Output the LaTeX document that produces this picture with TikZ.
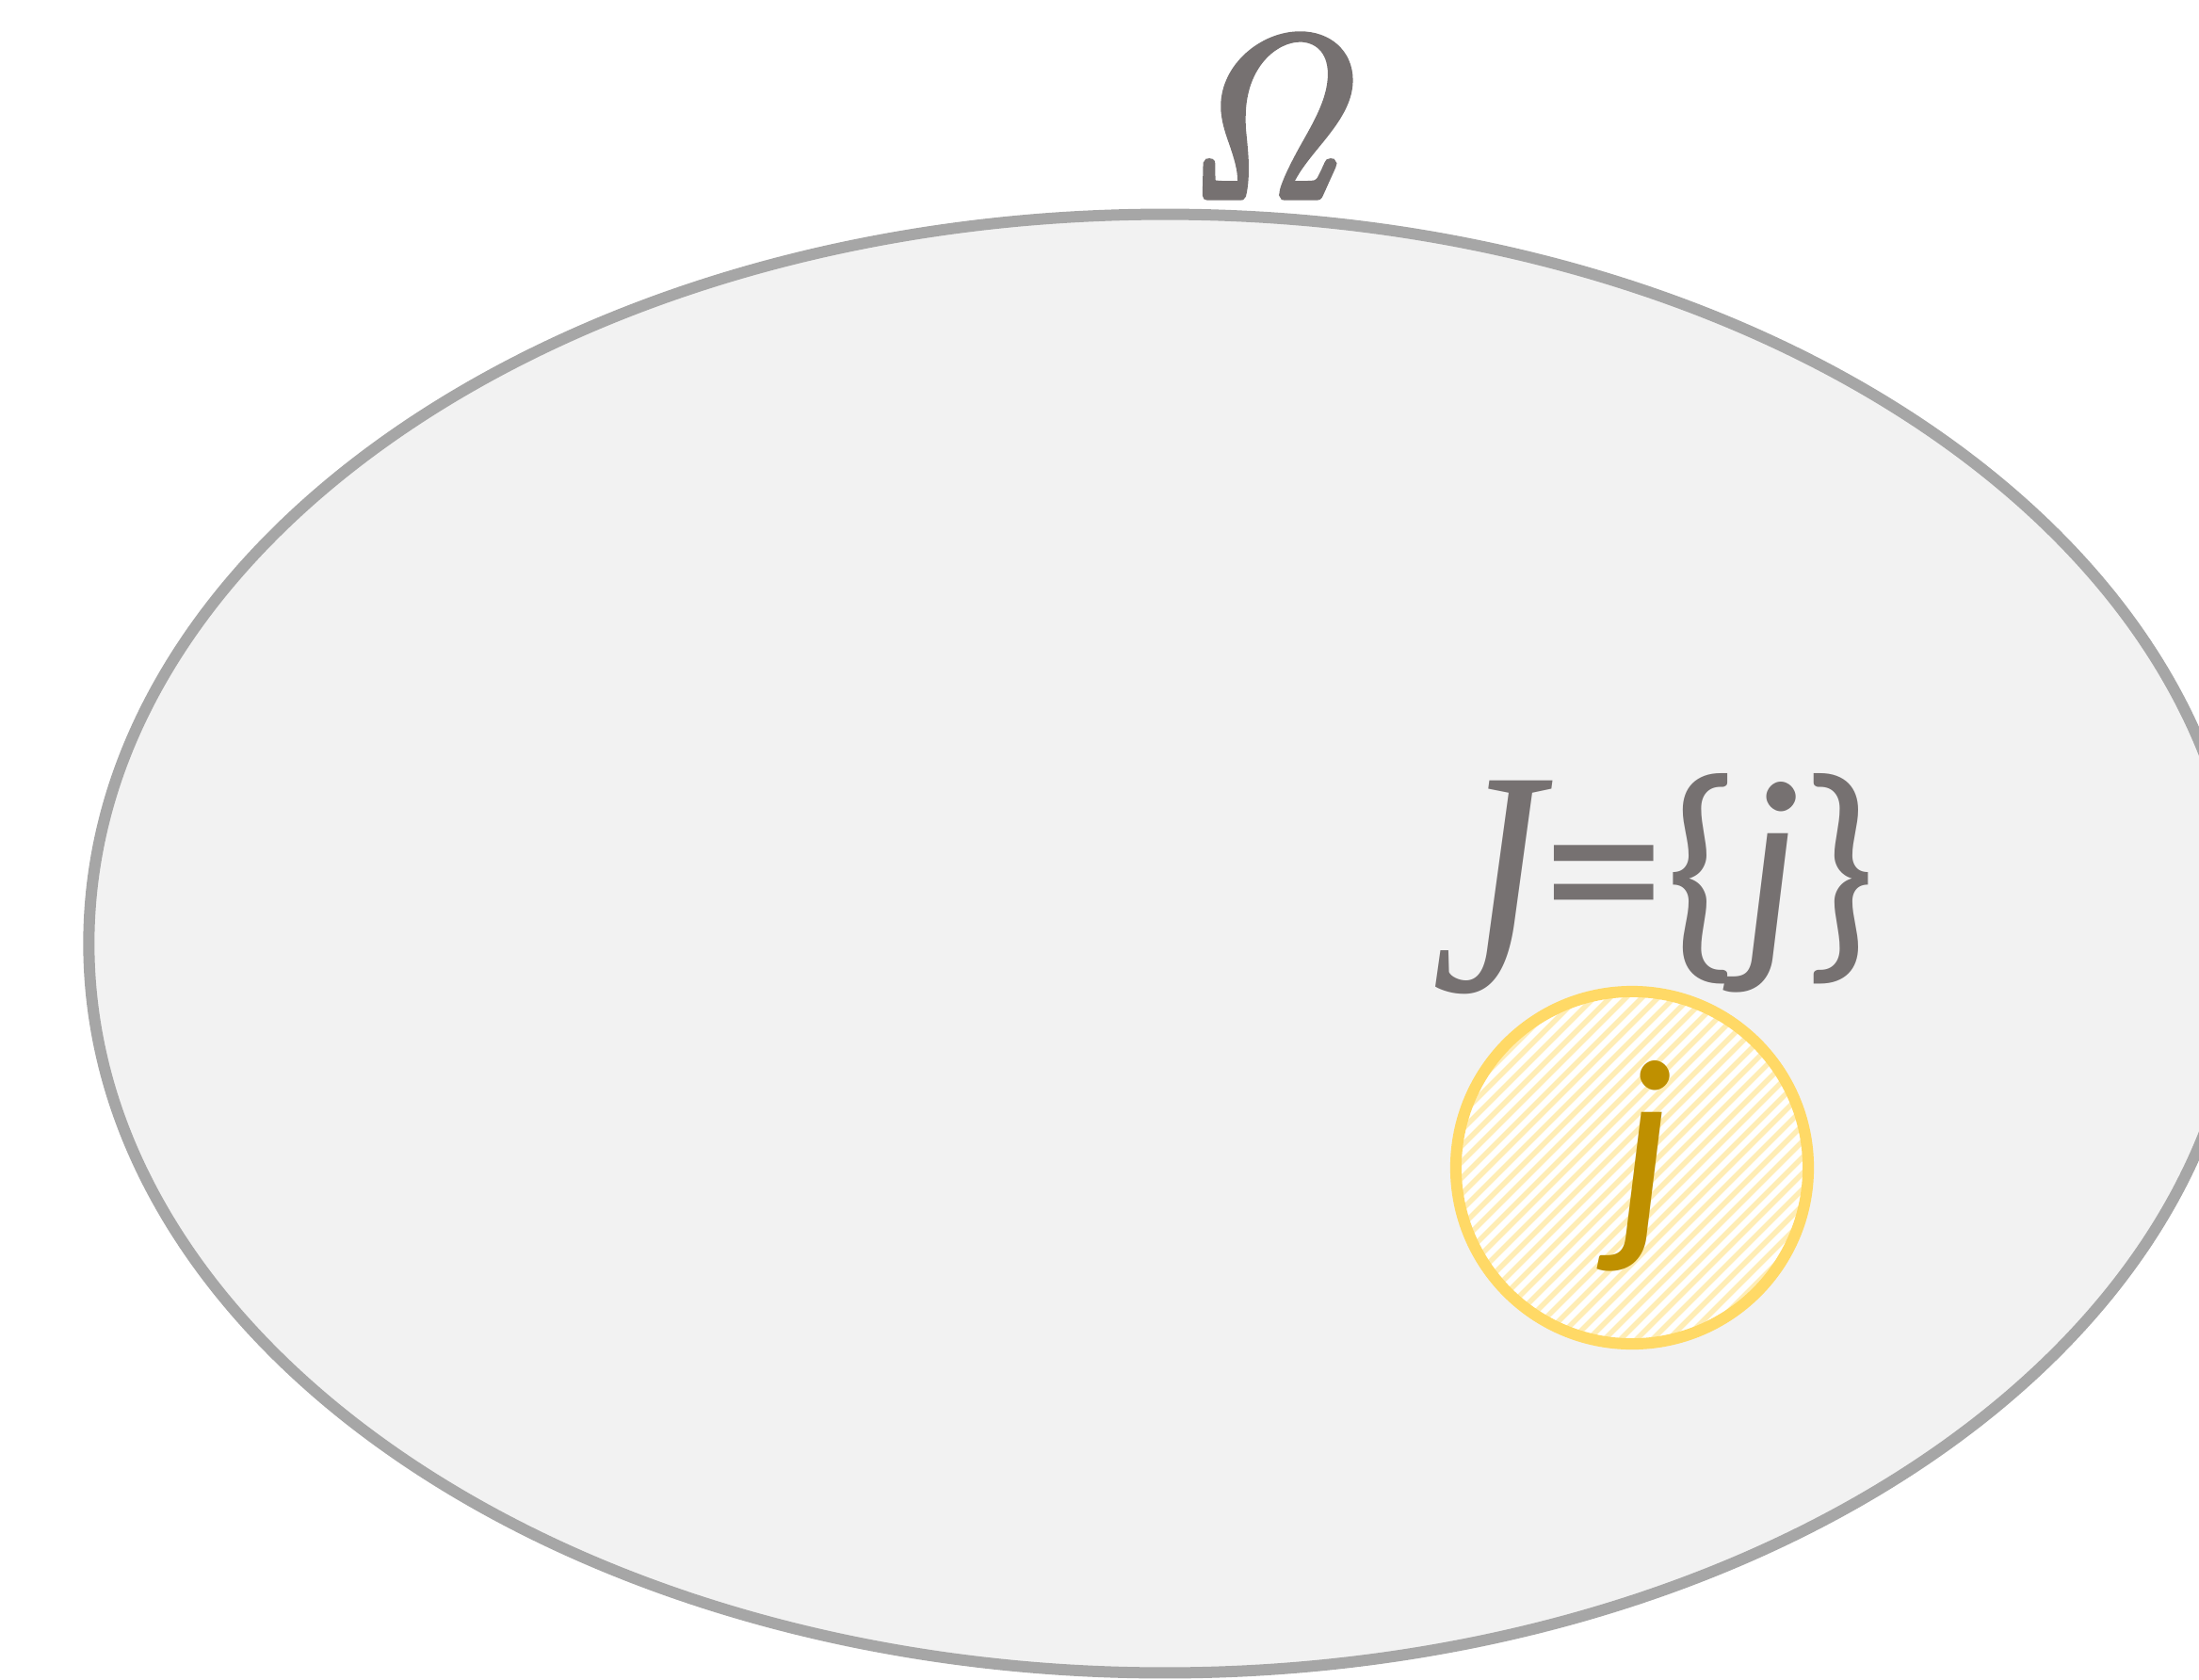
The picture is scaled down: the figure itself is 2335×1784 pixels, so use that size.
\documentclass[tikz,border=0pt]{standalone}
\usepackage[no-math]{fontspec}
\setmainfont{Carlito}
\newfontfamily\serifit{Liberation Serif}
\newfontface\omegaface[FakeBold=2.4]{lmroman10-italic.otf}
\definecolor{rimgray}{HTML}{A6A6A6}
\definecolor{fillgray}{HTML}{F2F2F2}
\definecolor{textgray}{HTML}{767171}
\definecolor{goldrim}{HTML}{FFD966}
\definecolor{goldhatch}{HTML}{FFEDB5}
\definecolor{golddark}{HTML}{BF9000}
\tikzset{
  setrim/.style={draw=rimgray, fill=fillgray, line width=0.12cm},
  labeltext/.style={text=textgray, inner sep=0pt},
}
\begin{document}
\begin{tikzpicture}[x=0.01cm, y=-0.01cm]
\useasboundingbox (0,0) rectangle (2335,1784);
% universe
\draw[setrim] (1237,1002) ellipse [x radius=11.42cm, y radius=7.74cm];
\node[labeltext, font=\fontsize{70}{74}\selectfont\omegaface] (omega) at (1340,123) {\scalebox{0.95}[1]{Ω}};
% set J label
\node[labeltext, font=\fontsize{97}{100}\selectfont\serifit\itshape] (Jletter) at (1580,942) {\scalebox{0.78}[1]{J}};
\node[labeltext, font=\fontsize{74}{78}\selectfont] (Jrest) at (1816,938) {=\{{\itshape j}\}};
% set J circle
\fill[white] (1733,1240) circle (1.87cm);
\begin{scope}
  \clip (1733,1240) circle (1.87cm);
  \foreach \s in {-459,-442,...,459} {
    \draw[goldhatch, line width=0.055cm] (1733+\s-250,1240+250) -- (1733+\s+250,1240-250);
  }
\end{scope}
\node[circle, draw=goldrim, line width=0.12cm, minimum size=3.74cm, inner sep=0pt] (jset) at (1733,1240) {};
\node[text=golddark, inner sep=0pt, font=\fontsize{74}{78}\selectfont\itshape] (jlabel) at (1747,1238) {j};
\end{tikzpicture}
\end{document}
